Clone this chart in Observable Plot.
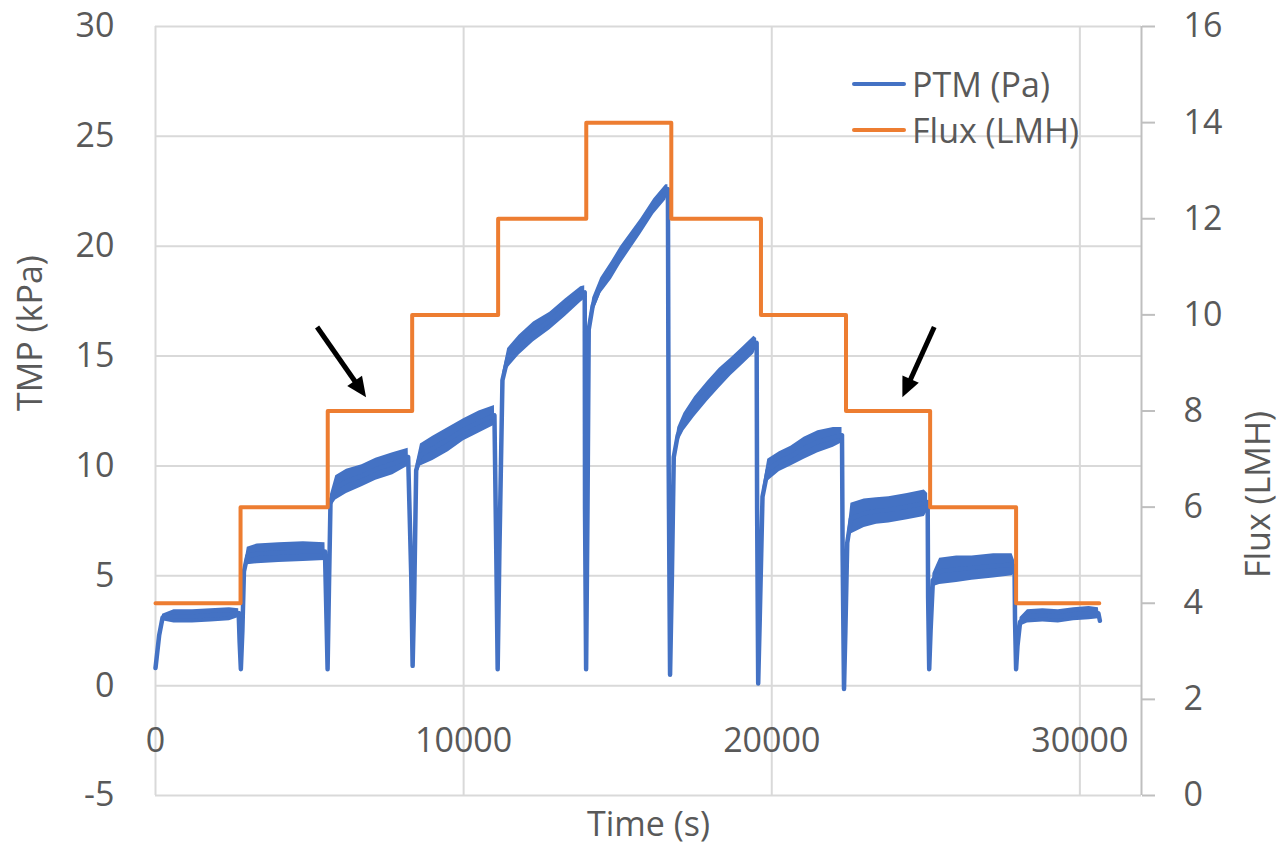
<!DOCTYPE html>
<html>
<head>
<meta charset="utf-8">
<script src="https://cdn.jsdelivr.net/npm/d3@7"></script>
<script src="https://cdn.jsdelivr.net/npm/@observablehq/plot@0.6"></script>
<style>
  body { margin: 0; background: #fff; }
  #chart { position: relative; width: 1281px; height: 849px; }
  .legend { position: absolute; left: 852px; top: 61px; font-family: "Open Sans", sans-serif; font-size: 34px; color: #595959; }
  .legend .row { display: flex; align-items: center; height: 46px; line-height: 46px; white-space: nowrap; }
  .legend .swatch { width: 54px; height: 4px; border-radius: 2px; margin-right: 6px; }
</style>
</head>
<body>
<div id="chart"></div>
<script>
// Axis ticks
const timeTicks = [0, 10000, 20000, 30000];
const tmpTicks = [-5, 0, 5, 10, 15, 20, 25, 30];
const fluxTicks = [0, 2, 4, 6, 8, 10, 12, 14, 16];
const timeMax = 32000;

// Imposed flux steps (LMH), held until the next change
const fluxTime  = [0, 2760, 5590, 8330, 11120, 13980, 16740, 19650, 22410, 25140, 27930, 30630];
const fluxValue = [4, 6, 8, 10, 12, 14, 12, 10, 8, 6, 4, 4];

// Transmembrane pressure (kPa): running level and half-width of the sensor noise
const tmpTime = [
  0, 120, 230, 600, 1200, 1800, 2400, 2700,
  2730, 2770, 2820, 2870, 2980, 3300, 4000, 4800, 5500,
  5550, 5585, 5630, 5680, 5850, 6200, 6700, 7150, 7700, 8200,
  8300, 8345, 8395, 8460, 8600, 9000, 9500, 10000, 10500, 11000,
  11060, 11105, 11160, 11260, 11430, 11800, 12270, 12800, 13300, 13800, 13930,
  13940, 13975, 14020, 14060, 14190, 14450, 14800, 15100, 15750, 16170, 16560, 16630,
  16655, 16700, 16760, 16820, 16950, 17150, 17500, 17920, 18300, 18670, 19050, 19420, 19510,
  19525, 19560, 19610, 19700, 19870, 20250, 20620, 21050, 21500, 22000, 22280,
  22300, 22345, 22390, 22450, 22570, 23000, 23400, 23800, 24400, 24950, 25060,
  25075, 25110, 25155, 25230, 25450, 26000, 26500, 27200, 27800, 27880,
  27895, 27930, 27975, 28060, 28300, 28800, 29300, 29800, 30300, 30600, 30650
];
const tmpMid = [
  0.8, 2.3, 3.1, 3.15, 3.15, 3.2, 3.25, 3.3,
  2.0, 0.75, 2.5, 5.2, 5.9, 6.0, 6.05, 6.1, 6.1,
  3.0, 0.75, 4.5, 8.4, 9.0, 9.3, 9.55, 9.85, 10.1, 10.4,
  5.0, 0.9, 4.0, 9.8, 10.5, 10.8, 11.2, 11.65, 12.0, 12.3,
  6.0, 0.75, 6.0, 13.9, 14.9, 15.5, 16.1, 16.6, 17.2, 17.8, 17.9,
  8.0, 0.75, 8.0, 16.2, 17.3, 18.2, 18.9, 19.6, 20.9, 21.8, 22.45, 22.6,
  10.0, 0.5, 5.0, 10.4, 11.4, 12.0, 12.7, 13.4, 14.0, 14.5, 15.0, 15.5, 15.6,
  8.0, 0.1, 3.0, 8.6, 9.8, 10.2, 10.45, 10.8, 11.1, 11.3, 11.4,
  6.0, -0.15, 2.5, 6.5, 7.6, 7.85, 7.95, 8.0, 8.15, 8.3, 8.35,
  4.0, 0.75, 2.5, 4.8, 5.2, 5.3, 5.35, 5.45, 5.5, 5.4,
  3.0, 0.75, 1.8, 2.9, 3.15, 3.2, 3.15, 3.25, 3.3, 3.3, 2.95
];
const tmpSpread = [
  0, 0, 0.15, 0.3, 0.3, 0.3, 0.3, 0.2,
  0, 0, 0, 0.2, 0.4, 0.45, 0.45, 0.45, 0.4,
  0, 0, 0, 0.3, 0.55, 0.55, 0.5, 0.5, 0.5, 0.4,
  0, 0, 0, 0.3, 0.5, 0.55, 0.55, 0.5, 0.5, 0.45,
  0, 0, 0, 0.3, 0.45, 0.45, 0.45, 0.4, 0.4, 0.35, 0.3,
  0, 0, 0, 0.3, 0.35, 0.35, 0.4, 0.4, 0.35, 0.35, 0.35, 0.2,
  0, 0, 0, 0.2, 0.35, 0.4, 0.45, 0.45, 0.45, 0.4, 0.4, 0.4, 0.2,
  0, 0, 0, 0.3, 0.5, 0.45, 0.45, 0.5, 0.5, 0.45, 0.35,
  0, 0, 0, 0.3, 0.7, 0.65, 0.6, 0.6, 0.6, 0.6, 0.4,
  0, 0, 0, 0.3, 0.6, 0.6, 0.55, 0.55, 0.5, 0.3,
  0, 0, 0, 0.2, 0.3, 0.3, 0.3, 0.3, 0.3, 0.25, 0
];

// Annotation arrows pointing at the two 8 LMH steps (tail -> tip, in time / kPa)
const arrowTailTime = [5260, 25290];
const arrowTailTmp  = [16.3, 16.3];
const arrowTipTime  = [6850, 24255];
const arrowTipTmp   = [13.1, 13.1];

const series = [
  { name: "PTM (Pa)", color: "#4472C4" },
  { name: "Flux (LMH)", color: "#ED7D31" }
];
const blue = series[0].color, orange = series[1].color;
const gridColor = "#D9D9D9", axisColor = "#BFBFBF", textColor = "#595959";

// Flux lives on the secondary axis: map its 0–16 range onto the TMP range
const fluxToTmp = d3.scaleLinear([0, 16], [-5, 30]);

const tmpRows = tmpTime.map((t, i) => ({
  t, mid: tmpMid[i], lo: tmpMid[i] - tmpSpread[i], hi: tmpMid[i] + tmpSpread[i]
}));
const fluxRows = fluxTime.map((t, i) => ({ t, y: fluxToTmp(fluxValue[i]) }));

// Filled-head arrows drawn through the plot's own x/y scales
function arrows(index, scales) {
  const g = d3.create("svg:g");
  for (let i = 0; i < arrowTailTime.length; ++i) {
    const x1 = scales.x(arrowTailTime[i]), y1 = scales.y(arrowTailTmp[i]);
    const x2 = scales.x(arrowTipTime[i]), y2 = scales.y(arrowTipTmp[i]);
    const a = Math.atan2(y2 - y1, x2 - x1);
    const L = 20, W = 9;
    const bx = x2 - L * Math.cos(a), by = y2 - L * Math.sin(a);
    g.append("line")
      .attr("x1", x1).attr("y1", y1).attr("x2", bx + 2 * Math.cos(a)).attr("y2", by + 2 * Math.sin(a))
      .attr("stroke", "#000").attr("stroke-width", 5);
    g.append("path")
      .attr("d", `M${x2},${y2}L${bx + W * Math.sin(a)},${by - W * Math.cos(a)}L${bx - W * Math.sin(a)},${by + W * Math.cos(a)}Z`)
      .attr("fill", "#000");
  }
  return g.node();
}

const chart = Plot.plot({
  width: 1281,
  height: 849,
  marginLeft: 155,
  marginRight: 140,
  marginTop: 26,
  marginBottom: 54,
  style: { fontFamily: "'Open Sans', sans-serif", fontSize: "34px", color: textColor, background: "#fff", overflow: "visible" },
  x: { domain: [0, timeMax], axis: null },
  y: { domain: [-5, 30], axis: null },
  marks: [
    Plot.gridY(tmpTicks, { stroke: gridColor, strokeOpacity: 1, strokeWidth: 2 }),
    Plot.gridX(timeTicks, { stroke: gridColor, strokeOpacity: 1, strokeWidth: 2 }),
    Plot.ruleX([timeMax], { stroke: axisColor, strokeWidth: 2 }),
    Plot.axisY(tmpTicks, { anchor: "left", tickSize: 0, tickPadding: 41, label: null, fill: textColor, tickFormat: (d) => String(d) }),
    Plot.axisY(fluxTicks.map(fluxToTmp), {
      anchor: "right", tickSize: 13, tickPadding: 29, label: null,
      stroke: axisColor, strokeWidth: 2, fill: textColor,
      tickFormat: (d) => String(Math.round(fluxToTmp.invert(d)))
    }),
    Plot.text(timeTicks, { x: (d) => d, frameAnchor: "bottom", lineAnchor: "middle", dy: -54, text: (d) => String(d), fill: textColor }),
    Plot.text(["Time (s)"], { frameAnchor: "bottom", lineAnchor: "middle", dy: 30, text: (d) => d, fill: textColor }),
    Plot.text(["TMP (kPa)"], { frameAnchor: "left", dx: -124, rotate: -90, text: (d) => d, fill: textColor }),
    Plot.text(["Flux (LMH)"], { frameAnchor: "right", dx: 118, rotate: -90, text: (d) => d, fill: textColor }),
    Plot.areaY(tmpRows, { x: "t", y1: "lo", y2: "hi", fill: blue }),
    Plot.line(tmpRows, { x: "t", y: "mid", stroke: blue, strokeWidth: 4.5 }),
    Plot.line(fluxRows, { x: "t", y: "y", curve: "step-after", stroke: orange, strokeWidth: 4 }),
    arrows
  ]
});

const root = document.getElementById("chart");
root.appendChild(chart);

// Series legend in the upper right of the plot area
const legend = d3.select(root).append("div").attr("class", "legend");
const rows = legend.selectAll("div.row").data(series).join("div").attr("class", "row");
rows.append("span").attr("class", "swatch").style("background", (d) => d.color);
rows.append("span").text((d) => d.name);
</script>
</body>
</html>
